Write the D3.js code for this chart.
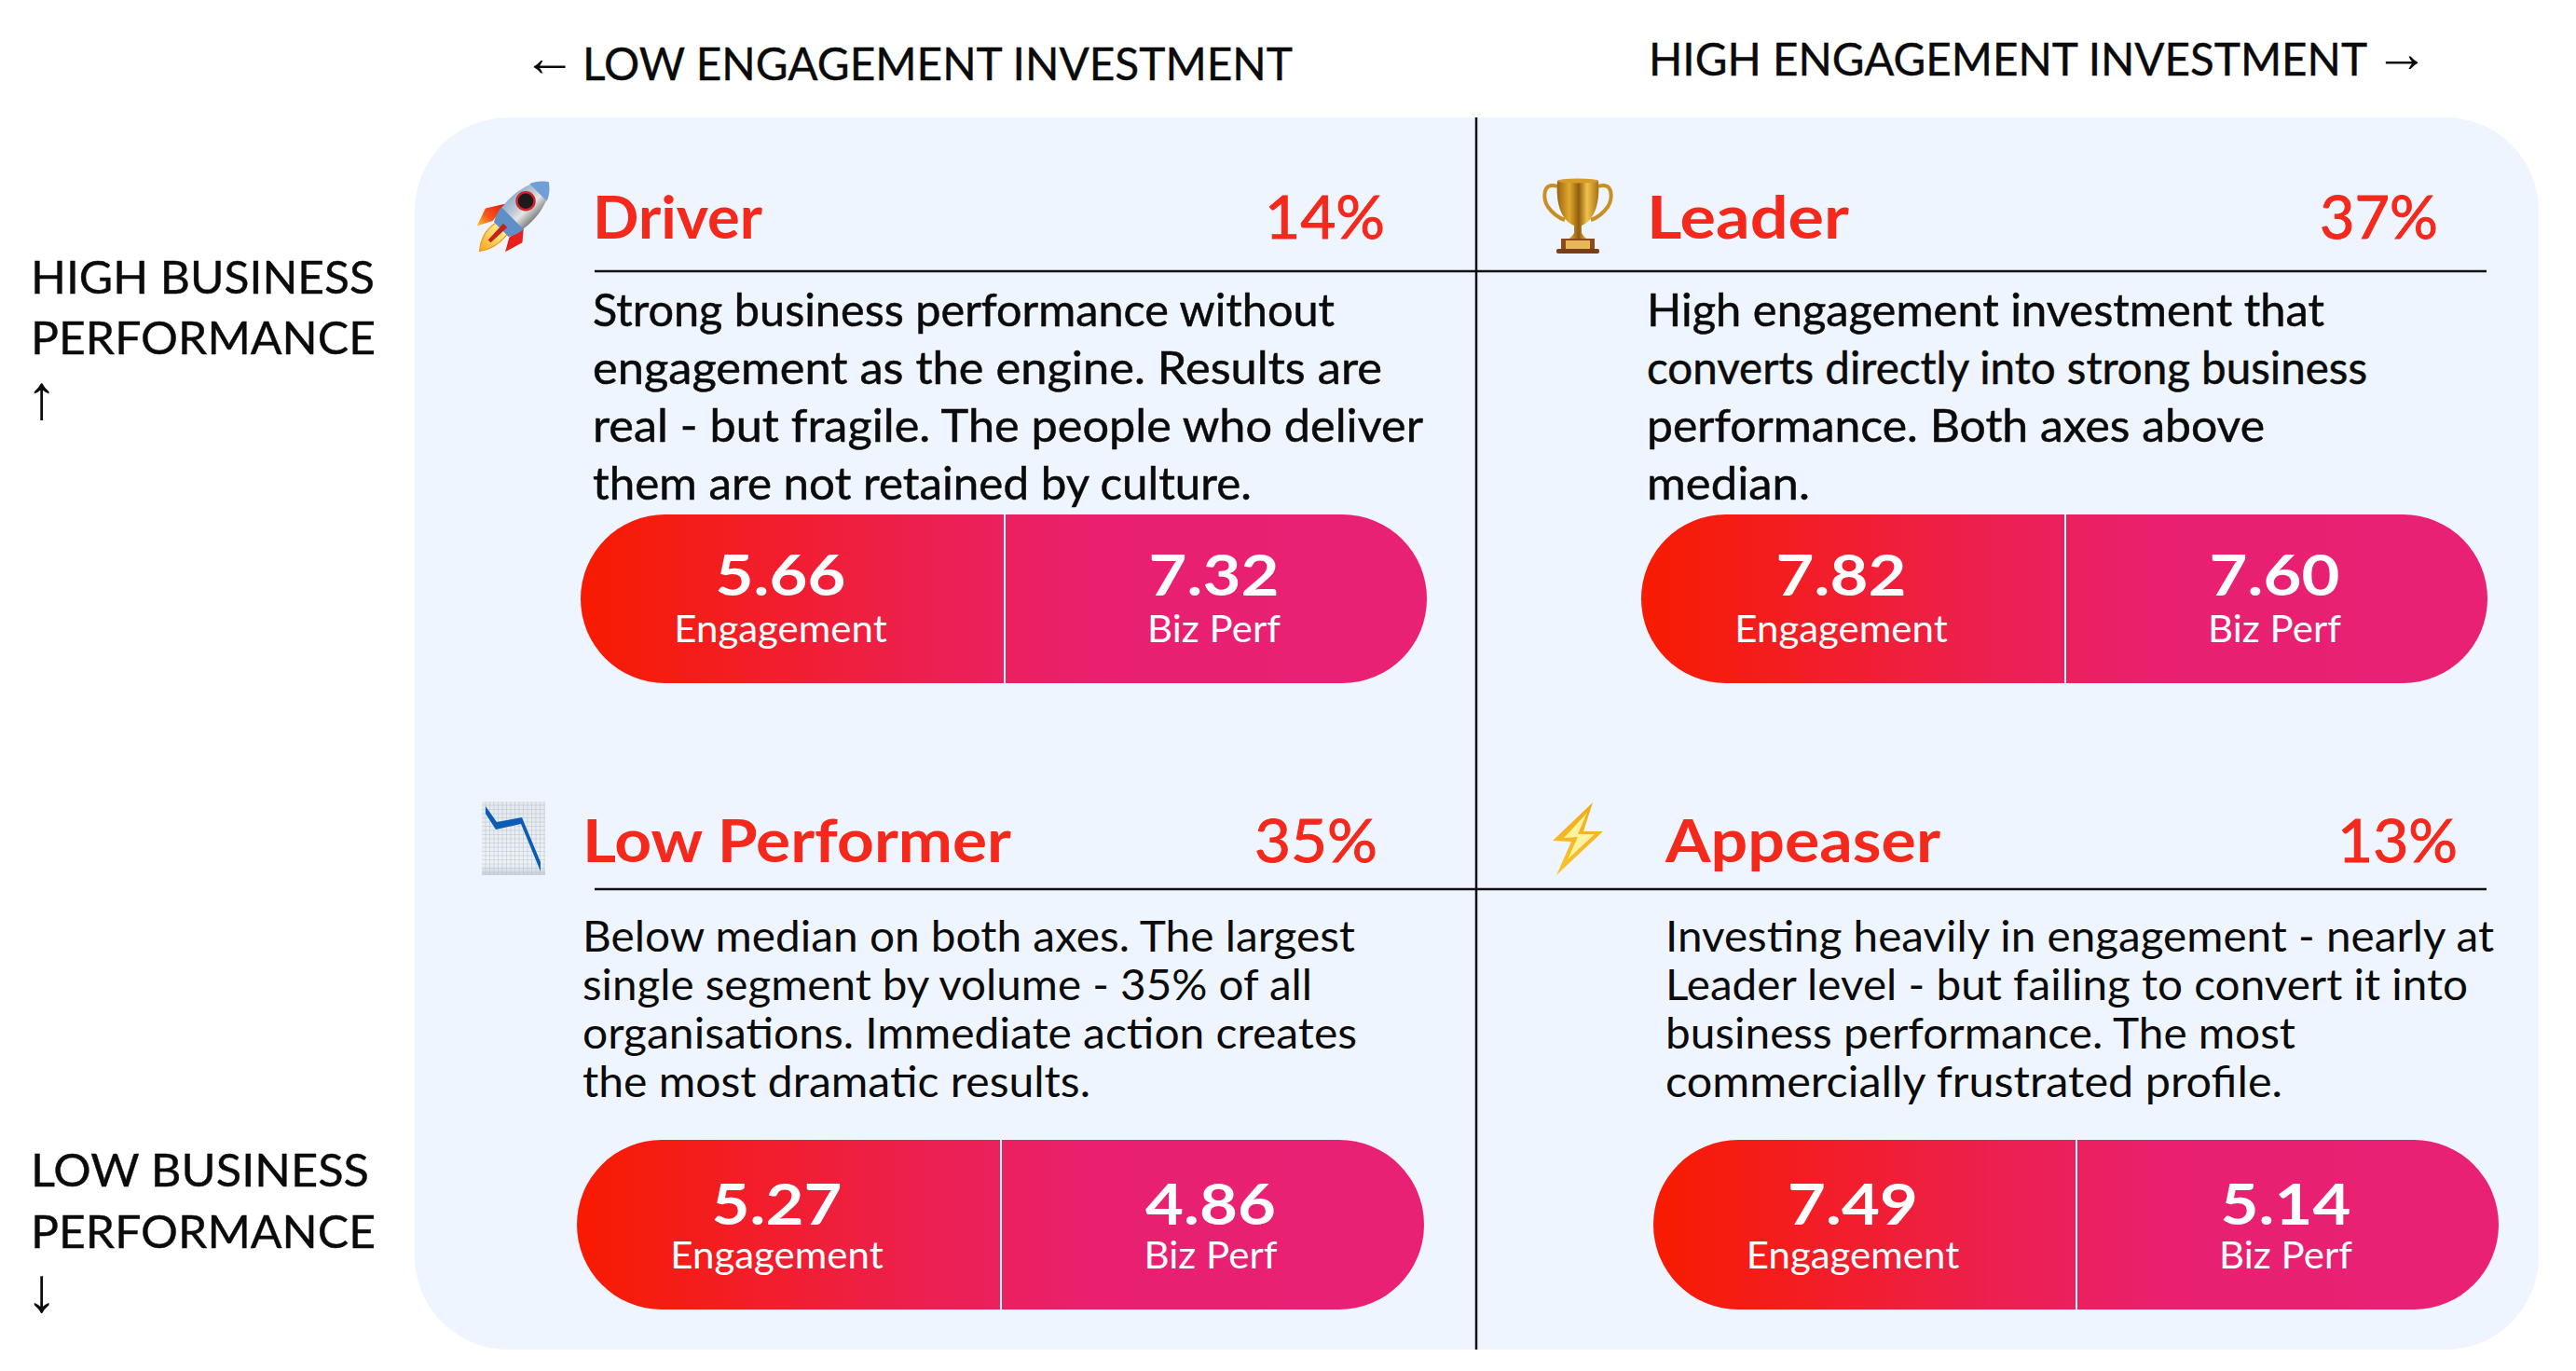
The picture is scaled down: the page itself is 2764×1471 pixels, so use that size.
<!DOCTYPE html>
<html>
<head>
<meta charset="utf-8">
<script src="https://cdn.jsdelivr.net/npm/d3@7"></script>
<style>
  html, body { margin: 0; padding: 0; background: #fff; }
  svg { display: block; }
  text { font-family: 'Lato', sans-serif; }
</style>
</head>
<body>
<svg id="chart"></svg>
<script>
// Values
const segments = ['Driver', 'Leader', 'Low Performer', 'Appeaser'];
const shares = [14, 37, 35, 13];
const engagement = [5.66, 7.82, 5.27, 7.49];
const bizPerf = [7.32, 7.60, 4.86, 5.14];
const descriptions = [
  ['Strong business performance without', 'engagement as the engine. Results are', 'real - but fragile. The people who deliver', 'them are not retained by culture.'],
  ['High engagement investment that', 'converts directly into strong business', 'performance. Both axes above', 'median.'],
  ['Below median on both axes. The largest', 'single segment by volume - 35% of all', 'organisations. Immediate action creates', 'the most dramatic results.'],
  ['Investing heavily in engagement - nearly at', 'Leader level - but failing to convert it into', 'business performance. The most', 'commercially frustrated profile.']
];
const metricLabels = ['Engagement', 'Biz Perf'];

const width = 2764;
const height = 1471;

// Where each card sits on the page
const cardLayout = [
  { icon: rocket, textX: 636, titleY: 256, titleW: 182, pctX: 1357, pctW: 129, bodyY: 350, bodyStep: 62, bodyW: [796, 847, 891, 707], pill: [623, 1078, 1531], pillY: 552, pillH: 181, valueY: 639, labelY: 689, bodyFont: 47.5, bodyStroke: 0.5 },
  { icon: trophy, textX: 1767, titleY: 256, titleW: 217, pctX: 2489, pctW: 127, bodyY: 350, bodyStep: 62, bodyW: [727, 773, 663, 175], pill: [1761, 2216, 2669], pillY: 552, pillH: 181, valueY: 639, labelY: 689, bodyFont: 47.5, bodyStroke: 0.5 },
  { icon: fallingChart, textX: 625, titleY: 925, titleW: 460, pctX: 1346, pctW: 132, bodyY: 1021, bodyStep: 52, bodyW: [829, 783, 831, 545], pill: [619, 1074, 1528], pillY: 1223, pillH: 182, valueY: 1314, labelY: 1361, bodyFont: 46, bodyStroke: 0 },
  { icon: bolt, textX: 1787, titleY: 925, titleW: 295, pctX: 2508, pctW: 129, bodyY: 1021, bodyStep: 52, bodyW: [889, 861, 676, 662], pill: [1774, 2228, 2681], pillY: 1223, pillH: 182, valueY: 1314, labelY: 1361, bodyFont: 46, bodyStroke: 0 }
];

const svg = d3.select('#chart')
  .attr('width', width)
  .attr('height', height)
  .attr('viewBox', `0 0 ${width} ${height}`);

const defs = svg.append('defs');

function linearGradient(id, stops, x1 = 0, y1 = 0, x2 = 1, y2 = 0) {
  const g = defs.append('linearGradient').attr('id', id)
    .attr('x1', x1).attr('y1', y1).attr('x2', x2).attr('y2', y2);
  stops.forEach(s => g.append('stop').attr('offset', s[0]).attr('stop-color', s[1]));
}

// squeeze or stretch a text to the width it has in the reference
function fit(sel, w) {
  return sel.attr('textLength', w).attr('lengthAdjust', 'spacingAndGlyphs');
}

linearGradient('pillGrad', [[0, '#f81b00'], [0.42, '#ec2052'], [0.62, '#e92070'], [1, '#e92175']]);
linearGradient('rocketBody', [[0, '#8fb0d4'], [0.4, '#c4ccd2'], [0.62, '#e4e6e6'], [1, '#808080']], 0, 0, 1, 0);
linearGradient('rocketFin', [[0, '#e3150f'], [0.6, '#f5581a'], [1, '#fdc82b']], 0, 0, 0, 1);
linearGradient('flame', [[0, '#fff08a'], [1, '#f4a51c']], 0, 0, 0, 1);
linearGradient('gold', [[0, '#9a6412'], [0.3, '#e2a92d'], [0.52, '#8f5c0f'], [0.72, '#f0c34a'], [1, '#a86f16']]);
linearGradient('boltGrad', [[0, '#f4a91a'], [1, '#f8c52e']], 0, 0, 0, 1);
linearGradient('chartBg', [[0, '#e3e9ee'], [0.85, '#eef3f8'], [1, '#c9d1d8']], 0, 0, 0, 1);

// Quadrant panel
svg.append('rect')
  .attr('x', 445).attr('y', 126)
  .attr('width', 2279).attr('height', 1322)
  .attr('rx', 100)
  .attr('fill', '#eef5ff');

svg.append('line')
  .attr('x1', 1584).attr('x2', 1584)
  .attr('y1', 126).attr('y2', 1448)
  .attr('stroke', '#111').attr('stroke-width', 2.5);

[291, 954].forEach(y => {
  svg.append('line')
    .attr('x1', 638).attr('x2', 2668)
    .attr('y1', y).attr('y2', y)
    .attr('stroke', '#111').attr('stroke-width', 2.5);
});

// Axis captions
function axisText(str, x, y, w, size = 49) {
  return fit(svg.append('text'), w)
    .attr('x', x).attr('y', y)
    .attr('font-size', size)
    .attr('fill', '#0b0b0b')
    .attr('stroke', '#0b0b0b').attr('stroke-width', 0.4)
    .text(str);
}
function arrowText(str, x, y, size) {
  return svg.append('text')
    .attr('x', x).attr('y', y)
    .attr('font-size', size)
    .style('font-family', "'Liberation Sans', sans-serif")
    .attr('fill', '#0b0b0b')
    .text(str);
}
arrowText('←', 561, 81, 57);
axisText('LOW ENGAGEMENT INVESTMENT', 625, 86, 762, 47.5);
axisText('HIGH ENGAGEMENT INVESTMENT', 1769, 81, 771, 47.5);
arrowText('→', 2548, 77, 58);
axisText('HIGH BUSINESS', 33, 315, 369);
axisText('PERFORMANCE', 33, 380, 370);
arrowText('↑', 28, 449, 67);
axisText('LOW BUSINESS', 33, 1273, 363);
axisText('PERFORMANCE', 33, 1339, 370);
arrowText('↓', 28, 1407, 67);

// Cards
segments.forEach((name, i) => {
  const c = cardLayout[i];
  const card = svg.append('g').attr('class', 'card');

  c.icon(card.append('g'));

  fit(card.append('text'), c.titleW)
    .attr('x', c.textX).attr('y', c.titleY)
    .attr('font-size', 64).attr('font-weight', 700)
    .attr('fill', '#f5281c')
    .text(name);

  fit(card.append('text'), c.pctW)
    .attr('x', c.pctX).attr('y', c.titleY)
    .attr('font-size', 64).attr('font-weight', 400)
    .attr('fill', '#f5281c')
    .attr('stroke', '#f5281c').attr('stroke-width', 1)
    .text(shares[i] + '%');

  card.selectAll('text.body')
    .data(descriptions[i])
    .join('text')
    .attr('class', 'body')
    .attr('x', c.textX)
    .attr('y', (d, k) => c.bodyY + k * c.bodyStep)
    .attr('font-size', c.bodyFont)
    .attr('textLength', (d, k) => c.bodyW[k])
    .attr('lengthAdjust', 'spacingAndGlyphs')
    .attr('fill', '#0b0b0b')
    .attr('stroke', '#0b0b0b').attr('stroke-width', c.bodyStroke)
    .text(d => d);

  // Metric pill, one x scale per card to place the two halves
  const x = d3.scaleOrdinal().domain(metricLabels).range([
    (c.pill[0] + c.pill[1]) / 2 - 13,
    (c.pill[1] + c.pill[2]) / 2 - 2
  ]);

  card.append('rect')
    .attr('x', c.pill[0]).attr('y', c.pillY)
    .attr('width', c.pill[2] - c.pill[0]).attr('height', c.pillH)
    .attr('rx', c.pillH / 2)
    .attr('fill', 'url(#pillGrad)');

  card.append('line')
    .attr('x1', c.pill[1]).attr('x2', c.pill[1])
    .attr('y1', c.pillY).attr('y2', c.pillY + c.pillH)
    .attr('stroke', '#fff').attr('stroke-width', 2);

  [engagement[i], bizPerf[i]].forEach((v, k) => {
    const value = card.append('text')
      .attr('x', x(metricLabels[k])).attr('y', c.valueY)
      .attr('text-anchor', 'middle')
      .attr('font-size', 62).attr('font-weight', 700)
      .attr('fill', '#fff')
      .text(v.toFixed(2));
    fit(value, value.node().getComputedTextLength() * 1.14);

    const label = card.append('text')
      .attr('x', x(metricLabels[k])).attr('y', c.labelY)
      .attr('text-anchor', 'middle')
      .attr('font-size', 40)
      .attr('fill', '#fff')
      .text(metricLabels[k]);
    fit(label, label.node().getComputedTextLength() * 1.05);
  });
});

// Emoji are drawn by hand because no colour emoji font is installed
function rocket(g) {
  g.attr('transform', 'translate(552,232) rotate(45)');
  g.append('path').attr('d', 'M-16,-3 L-28,16 L-21,36 L-13,20 Z').attr('fill', 'url(#rocketFin)');
  g.append('path').attr('d', 'M15,1 L26,14 L20,34 L12,20 Z').attr('fill', '#e8201a');
  g.append('path').attr('d', 'M-9,19 Q-13,38 0,53 Q11,38 8,19 Z').attr('fill', 'url(#flame)').attr('stroke', '#f0951a').attr('stroke-width', 1.2);
  g.append('path').attr('d', 'M0,-52 C18,-40 22,-2 11,20 L-11,20 C-22,-2 -18,-40 0,-52 Z').attr('fill', 'url(#rocketBody)');
  g.append('path').attr('d', 'M0,-52 C6,-48 11,-42 13,-36 L-13,-36 C-11,-42 -6,-48 0,-52 Z').attr('fill', '#6f9fd6');
  g.append('path').attr('d', 'M-17,3 L17,3 C16,10 14,15 11,20 L-11,20 C-14,15 -16,10 -17,3 Z').attr('fill', '#5f8fc6');
  g.append('circle').attr('cx', -3).attr('cy', -20).attr('r', 9.5).attr('fill', '#1d1a1c').attr('stroke', '#d3212b').attr('stroke-width', 2.5);
  g.append('path').attr('d', 'M-3,14 L3,14 L2,38 L-2,38 Z').attr('fill', '#c4201e');
}

function trophy(g) {
  g.attr('transform', 'translate(1693,192)');
  g.selectAll('path.handle').data([-1, 1]).join('path')
    .attr('class', 'handle')
    .attr('d', d => `M${d * 22},8 C${d * 38},2 ${d * 38},22 ${d * 32},30 C${d * 27},37 ${d * 20},42 ${d * 14},44`)
    .attr('fill', 'none').attr('stroke', '#c98f21').attr('stroke-width', 4);
  g.append('path').attr('d', 'M-22,2 L22,2 C24,26 18,44 4,50 L4,58 C6,62 10,64 12,66 L-12,66 C-10,64 -6,62 -4,58 L-4,50 C-18,44 -24,26 -22,2 Z').attr('fill', 'url(#gold)');
  g.append('ellipse').attr('cy', 2).attr('rx', 22).attr('ry', 2.5).attr('fill', '#d49c2a');
  g.append('rect').attr('x', -18).attr('y', 64).attr('width', 36).attr('height', 13).attr('fill', '#8c4a1a');
  g.append('rect').attr('x', -13).attr('y', 66).attr('width', 26).attr('height', 9).attr('fill', '#e6b85a');
  g.append('rect').attr('x', -23).attr('y', 75).attr('width', 46).attr('height', 5).attr('rx', 2).attr('fill', '#7a3d16');
}

function fallingChart(g) {
  g.attr('transform', 'translate(517,860)');
  g.append('rect').attr('width', 68).attr('height', 79).attr('fill', 'url(#chartBg)');
  g.selectAll('line.v').data(d3.range(4, 68, 4.5)).join('line').attr('class', 'v')
    .attr('x1', d => d).attr('x2', d => d).attr('y1', 0).attr('y2', 79)
    .attr('stroke', '#b6c1cb').attr('stroke-width', 0.5);
  g.selectAll('line.h').data(d3.range(4, 79, 4.5)).join('line').attr('class', 'h')
    .attr('y1', d => d).attr('y2', d => d).attr('x1', 0).attr('x2', 68)
    .attr('stroke', '#b6c1cb').attr('stroke-width', 0.5);
  g.append('path').attr('d', 'M4,5 L4,13 L15,30 L42,24 L63,75 L63,65 L43,17 L16,22 Z').attr('fill', '#0a5cb5');
}

function bolt(g) {
  g.attr('transform', 'translate(1666,860)');
  g.append('path').attr('d', 'M43,1 L0,42 L20,43 L4,79 L54,32 L33,32 Z').attr('fill', 'url(#boltGrad)');
  g.append('path').attr('d', 'M37,12 L12,39 L27,38 L16,62 L45,35 L27,35 Z').attr('fill', '#fff3a0');
}
</script>
</body>
</html>
